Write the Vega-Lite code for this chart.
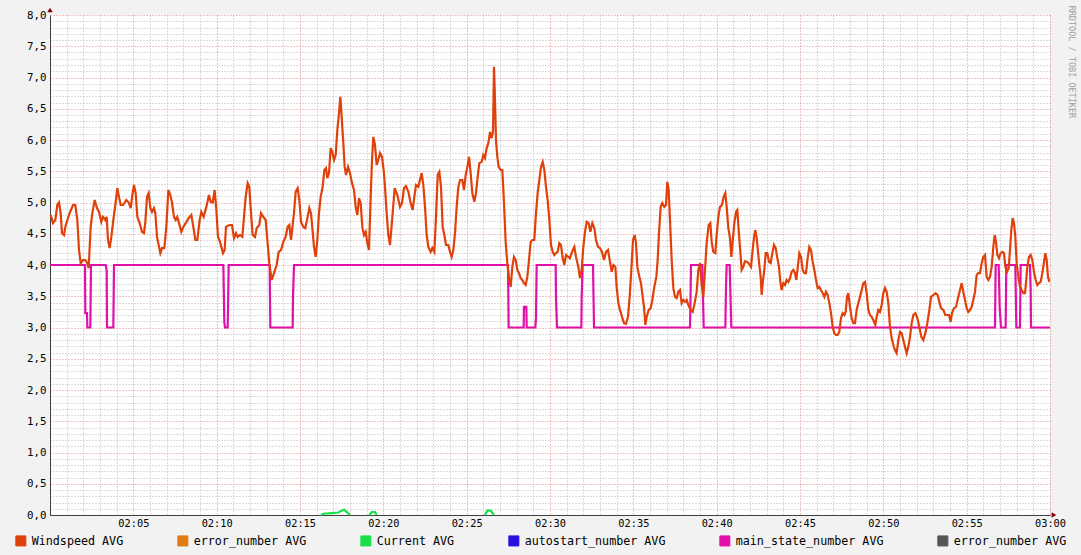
{
"$schema": "https://vega.github.io/schema/vega-lite/v6.json",
"width": 1000, "height": 500,
"autosize": {"type": "none"},
"padding": {"left": 50, "top": 15, "right": 31, "bottom": 40},
"background": "#f2f2f2",
"config": {"view": {"stroke": null, "fill": "#ffffff"}},
"title": {"text": "RRDTOOL / TOBI OETIKER", "orient": "right", "anchor": "start", "font": "DejaVu Sans Mono", "fontSize": 8.5, "fontWeight": "normal", "color": "#a0a0a0", "offset": 0, "dx": -2},
"datasets": {
"ws": [
{"s":"Windspeed AVG","t":0.04,"v":4.8},{"s":"Windspeed AVG","t":0.18,"v":4.67},{"s":"Windspeed AVG","t":0.32,"v":4.72},{"s":"Windspeed AVG","t":0.44,"v":4.96},{"s":"Windspeed AVG","t":0.54,"v":5.0},{"s":"Windspeed AVG","t":0.64,"v":4.83},{"s":"Windspeed AVG","t":0.72,"v":4.51},{"s":"Windspeed AVG","t":0.84,"v":4.48},{"s":"Windspeed AVG","t":0.92,"v":4.61},{"s":"Windspeed AVG","t":1.04,"v":4.72},{"s":"Windspeed AVG","t":1.18,"v":4.83},{"s":"Windspeed AVG","t":1.38,"v":4.96},{"s":"Windspeed AVG","t":1.52,"v":4.96},{"s":"Windspeed AVG","t":1.64,"v":4.72},{"s":"Windspeed AVG","t":1.74,"v":4.24},{"s":"Windspeed AVG","t":1.84,"v":4.03},{"s":"Windspeed AVG","t":1.98,"v":4.08},{"s":"Windspeed AVG","t":2.12,"v":4.08},{"s":"Windspeed AVG","t":2.24,"v":4.03},{"s":"Windspeed AVG","t":2.32,"v":3.95},{"s":"Windspeed AVG","t":2.44,"v":4.61},{"s":"Windspeed AVG","t":2.54,"v":4.83},{"s":"Windspeed AVG","t":2.68,"v":5.04},{"s":"Windspeed AVG","t":2.82,"v":4.91},{"s":"Windspeed AVG","t":2.94,"v":4.85},{"s":"Windspeed AVG","t":3.08,"v":4.69},{"s":"Windspeed AVG","t":3.18,"v":4.77},{"s":"Windspeed AVG","t":3.32,"v":4.72},{"s":"Windspeed AVG","t":3.4,"v":4.77},{"s":"Windspeed AVG","t":3.48,"v":4.4},{"s":"Windspeed AVG","t":3.58,"v":4.27},{"s":"Windspeed AVG","t":3.68,"v":4.45},{"s":"Windspeed AVG","t":3.8,"v":4.72},{"s":"Windspeed AVG","t":3.92,"v":4.96},{"s":"Windspeed AVG","t":4.04,"v":5.23},{"s":"Windspeed AVG","t":4.14,"v":5.09},{"s":"Windspeed AVG","t":4.24,"v":4.96},{"s":"Windspeed AVG","t":4.38,"v":4.96},{"s":"Windspeed AVG","t":4.58,"v":5.04},{"s":"Windspeed AVG","t":4.72,"v":5.0},{"s":"Windspeed AVG","t":4.84,"v":4.91},{"s":"Windspeed AVG","t":4.94,"v":5.12},{"s":"Windspeed AVG","t":5.04,"v":5.28},{"s":"Windspeed AVG","t":5.14,"v":5.15},{"s":"Windspeed AVG","t":5.24,"v":4.77},{"s":"Windspeed AVG","t":5.38,"v":4.67},{"s":"Windspeed AVG","t":5.52,"v":4.53},{"s":"Windspeed AVG","t":5.64,"v":4.51},{"s":"Windspeed AVG","t":5.72,"v":4.69},{"s":"Windspeed AVG","t":5.82,"v":5.09},{"s":"Windspeed AVG","t":5.92,"v":5.15},{"s":"Windspeed AVG","t":6.02,"v":4.91},{"s":"Windspeed AVG","t":6.12,"v":4.85},{"s":"Windspeed AVG","t":6.24,"v":4.91},{"s":"Windspeed AVG","t":6.32,"v":4.83},{"s":"Windspeed AVG","t":6.42,"v":4.45},{"s":"Windspeed AVG","t":6.52,"v":4.32},{"s":"Windspeed AVG","t":6.62,"v":4.19},{"s":"Windspeed AVG","t":6.72,"v":4.27},{"s":"Windspeed AVG","t":6.86,"v":4.27},{"s":"Windspeed AVG","t":6.98,"v":4.61},{"s":"Windspeed AVG","t":7.1,"v":5.2},{"s":"Windspeed AVG","t":7.22,"v":5.12},{"s":"Windspeed AVG","t":7.32,"v":5.0},{"s":"Windspeed AVG","t":7.44,"v":4.77},{"s":"Windspeed AVG","t":7.54,"v":4.72},{"s":"Windspeed AVG","t":7.64,"v":4.77},{"s":"Windspeed AVG","t":7.74,"v":4.67},{"s":"Windspeed AVG","t":7.88,"v":4.53},{"s":"Windspeed AVG","t":8.0,"v":4.61},{"s":"Windspeed AVG","t":8.14,"v":4.67},{"s":"Windspeed AVG","t":8.32,"v":4.75},{"s":"Windspeed AVG","t":8.48,"v":4.8},{"s":"Windspeed AVG","t":8.6,"v":4.61},{"s":"Windspeed AVG","t":8.72,"v":4.4},{"s":"Windspeed AVG","t":8.84,"v":4.4},{"s":"Windspeed AVG","t":8.98,"v":4.72},{"s":"Windspeed AVG","t":9.08,"v":4.85},{"s":"Windspeed AVG","t":9.22,"v":4.77},{"s":"Windspeed AVG","t":9.38,"v":4.93},{"s":"Windspeed AVG","t":9.54,"v":5.12},{"s":"Windspeed AVG","t":9.64,"v":5.01},{"s":"Windspeed AVG","t":9.76,"v":5.0},{"s":"Windspeed AVG","t":9.88,"v":5.2},{"s":"Windspeed AVG","t":9.98,"v":4.88},{"s":"Windspeed AVG","t":10.08,"v":4.45},{"s":"Windspeed AVG","t":10.2,"v":4.37},{"s":"Windspeed AVG","t":10.38,"v":4.19},{"s":"Windspeed AVG","t":10.48,"v":4.24},{"s":"Windspeed AVG","t":10.56,"v":4.61},{"s":"Windspeed AVG","t":10.76,"v":4.64},{"s":"Windspeed AVG","t":10.92,"v":4.64},{"s":"Windspeed AVG","t":11.04,"v":4.43},{"s":"Windspeed AVG","t":11.16,"v":4.51},{"s":"Windspeed AVG","t":11.26,"v":4.45},{"s":"Windspeed AVG","t":11.4,"v":4.48},{"s":"Windspeed AVG","t":11.54,"v":4.45},{"s":"Windspeed AVG","t":11.64,"v":4.77},{"s":"Windspeed AVG","t":11.74,"v":5.09},{"s":"Windspeed AVG","t":11.86,"v":5.31},{"s":"Windspeed AVG","t":11.96,"v":5.25},{"s":"Windspeed AVG","t":12.06,"v":4.83},{"s":"Windspeed AVG","t":12.16,"v":4.48},{"s":"Windspeed AVG","t":12.3,"v":4.45},{"s":"Windspeed AVG","t":12.4,"v":4.59},{"s":"Windspeed AVG","t":12.56,"v":4.64},{"s":"Windspeed AVG","t":12.66,"v":4.83},{"s":"Windspeed AVG","t":12.8,"v":4.77},{"s":"Windspeed AVG","t":12.94,"v":4.72},{"s":"Windspeed AVG","t":13.04,"v":4.4},{"s":"Windspeed AVG","t":13.16,"v":4.03},{"s":"Windspeed AVG","t":13.3,"v":3.76},{"s":"Windspeed AVG","t":13.44,"v":3.87},{"s":"Windspeed AVG","t":13.6,"v":4.0},{"s":"Windspeed AVG","t":13.72,"v":4.21},{"s":"Windspeed AVG","t":13.86,"v":4.24},{"s":"Windspeed AVG","t":14.0,"v":4.37},{"s":"Windspeed AVG","t":14.14,"v":4.45},{"s":"Windspeed AVG","t":14.26,"v":4.61},{"s":"Windspeed AVG","t":14.36,"v":4.64},{"s":"Windspeed AVG","t":14.46,"v":4.4},{"s":"Windspeed AVG","t":14.54,"v":4.59},{"s":"Windspeed AVG","t":14.64,"v":4.83},{"s":"Windspeed AVG","t":14.74,"v":5.17},{"s":"Windspeed AVG","t":14.86,"v":5.23},{"s":"Windspeed AVG","t":14.96,"v":5.04},{"s":"Windspeed AVG","t":15.06,"v":4.69},{"s":"Windspeed AVG","t":15.2,"v":4.61},{"s":"Windspeed AVG","t":15.32,"v":4.59},{"s":"Windspeed AVG","t":15.44,"v":4.75},{"s":"Windspeed AVG","t":15.56,"v":4.91},{"s":"Windspeed AVG","t":15.66,"v":4.83},{"s":"Windspeed AVG","t":15.74,"v":4.59},{"s":"Windspeed AVG","t":15.84,"v":4.29},{"s":"Windspeed AVG","t":15.94,"v":4.13},{"s":"Windspeed AVG","t":16.04,"v":4.4},{"s":"Windspeed AVG","t":16.14,"v":4.83},{"s":"Windspeed AVG","t":16.24,"v":5.09},{"s":"Windspeed AVG","t":16.36,"v":5.25},{"s":"Windspeed AVG","t":16.46,"v":5.52},{"s":"Windspeed AVG","t":16.56,"v":5.55},{"s":"Windspeed AVG","t":16.64,"v":5.39},{"s":"Windspeed AVG","t":16.74,"v":5.47},{"s":"Windspeed AVG","t":16.84,"v":5.87},{"s":"Windspeed AVG","t":16.94,"v":5.81},{"s":"Windspeed AVG","t":17.04,"v":5.68},{"s":"Windspeed AVG","t":17.14,"v":5.76},{"s":"Windspeed AVG","t":17.24,"v":6.16},{"s":"Windspeed AVG","t":17.34,"v":6.43},{"s":"Windspeed AVG","t":17.42,"v":6.69},{"s":"Windspeed AVG","t":17.5,"v":6.37},{"s":"Windspeed AVG","t":17.6,"v":5.95},{"s":"Windspeed AVG","t":17.68,"v":5.57},{"s":"Windspeed AVG","t":17.76,"v":5.44},{"s":"Windspeed AVG","t":17.88,"v":5.57},{"s":"Windspeed AVG","t":18.0,"v":5.47},{"s":"Windspeed AVG","t":18.12,"v":5.31},{"s":"Windspeed AVG","t":18.24,"v":5.2},{"s":"Windspeed AVG","t":18.34,"v":4.93},{"s":"Windspeed AVG","t":18.44,"v":4.8},{"s":"Windspeed AVG","t":18.54,"v":5.07},{"s":"Windspeed AVG","t":18.64,"v":4.99},{"s":"Windspeed AVG","t":18.74,"v":4.61},{"s":"Windspeed AVG","t":18.84,"v":4.48},{"s":"Windspeed AVG","t":18.94,"v":4.53},{"s":"Windspeed AVG","t":19.04,"v":4.35},{"s":"Windspeed AVG","t":19.14,"v":4.24},{"s":"Windspeed AVG","t":19.24,"v":5.09},{"s":"Windspeed AVG","t":19.32,"v":5.68},{"s":"Windspeed AVG","t":19.4,"v":6.05},{"s":"Windspeed AVG","t":19.5,"v":5.92},{"s":"Windspeed AVG","t":19.6,"v":5.6},{"s":"Windspeed AVG","t":19.7,"v":5.68},{"s":"Windspeed AVG","t":19.8,"v":5.79},{"s":"Windspeed AVG","t":19.92,"v":5.73},{"s":"Windspeed AVG","t":20.02,"v":5.52},{"s":"Windspeed AVG","t":20.1,"v":5.25},{"s":"Windspeed AVG","t":20.2,"v":4.83},{"s":"Windspeed AVG","t":20.3,"v":4.48},{"s":"Windspeed AVG","t":20.4,"v":4.32},{"s":"Windspeed AVG","t":20.56,"v":4.83},{"s":"Windspeed AVG","t":20.68,"v":5.23},{"s":"Windspeed AVG","t":20.84,"v":5.12},{"s":"Windspeed AVG","t":21.0,"v":4.93},{"s":"Windspeed AVG","t":21.12,"v":4.99},{"s":"Windspeed AVG","t":21.24,"v":5.23},{"s":"Windspeed AVG","t":21.36,"v":5.26},{"s":"Windspeed AVG","t":21.5,"v":5.17},{"s":"Windspeed AVG","t":21.64,"v":4.99},{"s":"Windspeed AVG","t":21.76,"v":4.88},{"s":"Windspeed AVG","t":21.86,"v":5.09},{"s":"Windspeed AVG","t":21.96,"v":5.28},{"s":"Windspeed AVG","t":22.1,"v":5.25},{"s":"Windspeed AVG","t":22.2,"v":5.36},{"s":"Windspeed AVG","t":22.3,"v":5.47},{"s":"Windspeed AVG","t":22.4,"v":5.28},{"s":"Windspeed AVG","t":22.5,"v":4.93},{"s":"Windspeed AVG","t":22.6,"v":4.48},{"s":"Windspeed AVG","t":22.7,"v":4.29},{"s":"Windspeed AVG","t":22.84,"v":4.21},{"s":"Windspeed AVG","t":22.94,"v":4.27},{"s":"Windspeed AVG","t":23.06,"v":4.21},{"s":"Windspeed AVG","t":23.16,"v":4.77},{"s":"Windspeed AVG","t":23.26,"v":5.44},{"s":"Windspeed AVG","t":23.36,"v":5.49},{"s":"Windspeed AVG","t":23.46,"v":5.25},{"s":"Windspeed AVG","t":23.56,"v":4.61},{"s":"Windspeed AVG","t":23.66,"v":4.48},{"s":"Windspeed AVG","t":23.76,"v":4.32},{"s":"Windspeed AVG","t":23.9,"v":4.32},{"s":"Windspeed AVG","t":24.0,"v":4.21},{"s":"Windspeed AVG","t":24.1,"v":4.13},{"s":"Windspeed AVG","t":24.2,"v":4.24},{"s":"Windspeed AVG","t":24.3,"v":4.51},{"s":"Windspeed AVG","t":24.4,"v":4.93},{"s":"Windspeed AVG","t":24.5,"v":5.25},{"s":"Windspeed AVG","t":24.6,"v":5.36},{"s":"Windspeed AVG","t":24.74,"v":5.36},{"s":"Windspeed AVG","t":24.84,"v":5.2},{"s":"Windspeed AVG","t":24.94,"v":5.44},{"s":"Windspeed AVG","t":25.04,"v":5.57},{"s":"Windspeed AVG","t":25.14,"v":5.73},{"s":"Windspeed AVG","t":25.24,"v":5.47},{"s":"Windspeed AVG","t":25.34,"v":5.15},{"s":"Windspeed AVG","t":25.46,"v":5.01},{"s":"Windspeed AVG","t":25.56,"v":5.15},{"s":"Windspeed AVG","t":25.66,"v":5.41},{"s":"Windspeed AVG","t":25.76,"v":5.63},{"s":"Windspeed AVG","t":25.9,"v":5.65},{"s":"Windspeed AVG","t":26.0,"v":5.76},{"s":"Windspeed AVG","t":26.1,"v":5.71},{"s":"Windspeed AVG","t":26.2,"v":5.87},{"s":"Windspeed AVG","t":26.3,"v":5.95},{"s":"Windspeed AVG","t":26.4,"v":6.13},{"s":"Windspeed AVG","t":26.5,"v":6.03},{"s":"Windspeed AVG","t":26.58,"v":6.13},{"s":"Windspeed AVG","t":26.64,"v":7.17},{"s":"Windspeed AVG","t":26.7,"v":6.64},{"s":"Windspeed AVG","t":26.76,"v":6.0},{"s":"Windspeed AVG","t":26.84,"v":5.73},{"s":"Windspeed AVG","t":26.92,"v":5.57},{"s":"Windspeed AVG","t":27.04,"v":5.52},{"s":"Windspeed AVG","t":27.14,"v":5.52},{"s":"Windspeed AVG","t":27.24,"v":4.99},{"s":"Windspeed AVG","t":27.34,"v":4.37},{"s":"Windspeed AVG","t":27.44,"v":4.03},{"s":"Windspeed AVG","t":27.54,"v":3.79},{"s":"Windspeed AVG","t":27.64,"v":3.65},{"s":"Windspeed AVG","t":27.74,"v":3.97},{"s":"Windspeed AVG","t":27.84,"v":4.13},{"s":"Windspeed AVG","t":27.94,"v":4.08},{"s":"Windspeed AVG","t":28.04,"v":3.92},{"s":"Windspeed AVG","t":28.14,"v":3.87},{"s":"Windspeed AVG","t":28.24,"v":3.79},{"s":"Windspeed AVG","t":28.34,"v":3.76},{"s":"Windspeed AVG","t":28.44,"v":3.71},{"s":"Windspeed AVG","t":28.54,"v":3.68},{"s":"Windspeed AVG","t":28.64,"v":3.81},{"s":"Windspeed AVG","t":28.74,"v":4.08},{"s":"Windspeed AVG","t":28.84,"v":4.37},{"s":"Windspeed AVG","t":28.94,"v":4.4},{"s":"Windspeed AVG","t":29.06,"v":4.4},{"s":"Windspeed AVG","t":29.16,"v":4.83},{"s":"Windspeed AVG","t":29.26,"v":5.15},{"s":"Windspeed AVG","t":29.36,"v":5.36},{"s":"Windspeed AVG","t":29.46,"v":5.57},{"s":"Windspeed AVG","t":29.56,"v":5.65},{"s":"Windspeed AVG","t":29.66,"v":5.52},{"s":"Windspeed AVG","t":29.76,"v":5.25},{"s":"Windspeed AVG","t":29.86,"v":5.04},{"s":"Windspeed AVG","t":29.96,"v":4.72},{"s":"Windspeed AVG","t":30.06,"v":4.32},{"s":"Windspeed AVG","t":30.16,"v":4.21},{"s":"Windspeed AVG","t":30.26,"v":4.16},{"s":"Windspeed AVG","t":30.36,"v":4.19},{"s":"Windspeed AVG","t":30.46,"v":4.21},{"s":"Windspeed AVG","t":30.56,"v":4.35},{"s":"Windspeed AVG","t":30.66,"v":4.32},{"s":"Windspeed AVG","t":30.76,"v":4.11},{"s":"Windspeed AVG","t":30.86,"v":4.0},{"s":"Windspeed AVG","t":30.96,"v":4.16},{"s":"Windspeed AVG","t":31.1,"v":4.13},{"s":"Windspeed AVG","t":31.2,"v":4.11},{"s":"Windspeed AVG","t":31.32,"v":4.21},{"s":"Windspeed AVG","t":31.46,"v":4.29},{"s":"Windspeed AVG","t":31.56,"v":4.13},{"s":"Windspeed AVG","t":31.7,"v":3.97},{"s":"Windspeed AVG","t":31.8,"v":3.79},{"s":"Windspeed AVG","t":31.9,"v":3.92},{"s":"Windspeed AVG","t":32.0,"v":4.29},{"s":"Windspeed AVG","t":32.1,"v":4.53},{"s":"Windspeed AVG","t":32.2,"v":4.69},{"s":"Windspeed AVG","t":32.32,"v":4.67},{"s":"Windspeed AVG","t":32.42,"v":4.53},{"s":"Windspeed AVG","t":32.54,"v":4.67},{"s":"Windspeed AVG","t":32.66,"v":4.59},{"s":"Windspeed AVG","t":32.76,"v":4.4},{"s":"Windspeed AVG","t":32.88,"v":4.29},{"s":"Windspeed AVG","t":33.0,"v":4.27},{"s":"Windspeed AVG","t":33.12,"v":4.21},{"s":"Windspeed AVG","t":33.24,"v":4.08},{"s":"Windspeed AVG","t":33.36,"v":4.21},{"s":"Windspeed AVG","t":33.48,"v":4.24},{"s":"Windspeed AVG","t":33.6,"v":4.05},{"s":"Windspeed AVG","t":33.7,"v":3.89},{"s":"Windspeed AVG","t":33.8,"v":4.0},{"s":"Windspeed AVG","t":33.92,"v":3.97},{"s":"Windspeed AVG","t":34.0,"v":3.65},{"s":"Windspeed AVG","t":34.1,"v":3.39},{"s":"Windspeed AVG","t":34.2,"v":3.28},{"s":"Windspeed AVG","t":34.32,"v":3.17},{"s":"Windspeed AVG","t":34.44,"v":3.07},{"s":"Windspeed AVG","t":34.56,"v":3.06},{"s":"Windspeed AVG","t":34.68,"v":3.17},{"s":"Windspeed AVG","t":34.78,"v":3.49},{"s":"Windspeed AVG","t":34.88,"v":3.92},{"s":"Windspeed AVG","t":34.98,"v":4.4},{"s":"Windspeed AVG","t":35.08,"v":4.48},{"s":"Windspeed AVG","t":35.16,"v":4.35},{"s":"Windspeed AVG","t":35.24,"v":3.97},{"s":"Windspeed AVG","t":35.36,"v":3.81},{"s":"Windspeed AVG","t":35.46,"v":3.71},{"s":"Windspeed AVG","t":35.56,"v":3.49},{"s":"Windspeed AVG","t":35.64,"v":3.33},{"s":"Windspeed AVG","t":35.72,"v":3.04},{"s":"Windspeed AVG","t":35.8,"v":3.17},{"s":"Windspeed AVG","t":35.92,"v":3.28},{"s":"Windspeed AVG","t":36.04,"v":3.31},{"s":"Windspeed AVG","t":36.14,"v":3.44},{"s":"Windspeed AVG","t":36.26,"v":3.65},{"s":"Windspeed AVG","t":36.38,"v":3.81},{"s":"Windspeed AVG","t":36.46,"v":4.08},{"s":"Windspeed AVG","t":36.54,"v":4.51},{"s":"Windspeed AVG","t":36.64,"v":4.93},{"s":"Windspeed AVG","t":36.74,"v":4.99},{"s":"Windspeed AVG","t":36.86,"v":4.93},{"s":"Windspeed AVG","t":36.96,"v":4.96},{"s":"Windspeed AVG","t":37.04,"v":5.33},{"s":"Windspeed AVG","t":37.12,"v":5.2},{"s":"Windspeed AVG","t":37.2,"v":4.72},{"s":"Windspeed AVG","t":37.3,"v":4.08},{"s":"Windspeed AVG","t":37.4,"v":3.63},{"s":"Windspeed AVG","t":37.5,"v":3.49},{"s":"Windspeed AVG","t":37.6,"v":3.47},{"s":"Windspeed AVG","t":37.7,"v":3.57},{"s":"Windspeed AVG","t":37.8,"v":3.6},{"s":"Windspeed AVG","t":37.9,"v":3.39},{"s":"Windspeed AVG","t":38.0,"v":3.44},{"s":"Windspeed AVG","t":38.12,"v":3.41},{"s":"Windspeed AVG","t":38.2,"v":3.44},{"s":"Windspeed AVG","t":38.3,"v":3.36},{"s":"Windspeed AVG","t":38.44,"v":3.28},{"s":"Windspeed AVG","t":38.56,"v":3.25},{"s":"Windspeed AVG","t":38.68,"v":3.39},{"s":"Windspeed AVG","t":38.8,"v":3.57},{"s":"Windspeed AVG","t":38.9,"v":3.92},{"s":"Windspeed AVG","t":39.0,"v":4.03},{"s":"Windspeed AVG","t":39.1,"v":3.68},{"s":"Windspeed AVG","t":39.2,"v":3.49},{"s":"Windspeed AVG","t":39.3,"v":3.92},{"s":"Windspeed AVG","t":39.4,"v":4.35},{"s":"Windspeed AVG","t":39.52,"v":4.64},{"s":"Windspeed AVG","t":39.62,"v":4.67},{"s":"Windspeed AVG","t":39.7,"v":4.37},{"s":"Windspeed AVG","t":39.8,"v":4.21},{"s":"Windspeed AVG","t":39.92,"v":4.19},{"s":"Windspeed AVG","t":40.0,"v":4.48},{"s":"Windspeed AVG","t":40.1,"v":4.77},{"s":"Windspeed AVG","t":40.2,"v":4.93},{"s":"Windspeed AVG","t":40.32,"v":4.96},{"s":"Windspeed AVG","t":40.42,"v":5.09},{"s":"Windspeed AVG","t":40.52,"v":5.15},{"s":"Windspeed AVG","t":40.6,"v":4.93},{"s":"Windspeed AVG","t":40.7,"v":4.59},{"s":"Windspeed AVG","t":40.8,"v":4.43},{"s":"Windspeed AVG","t":40.88,"v":4.13},{"s":"Windspeed AVG","t":40.96,"v":4.37},{"s":"Windspeed AVG","t":41.06,"v":4.67},{"s":"Windspeed AVG","t":41.16,"v":4.85},{"s":"Windspeed AVG","t":41.24,"v":4.88},{"s":"Windspeed AVG","t":41.32,"v":4.56},{"s":"Windspeed AVG","t":41.4,"v":4.28},{"s":"Windspeed AVG","t":41.5,"v":3.92},{"s":"Windspeed AVG","t":41.6,"v":3.97},{"s":"Windspeed AVG","t":41.7,"v":4.06},{"s":"Windspeed AVG","t":41.84,"v":4.05},{"s":"Windspeed AVG","t":41.96,"v":4.01},{"s":"Windspeed AVG","t":42.06,"v":3.97},{"s":"Windspeed AVG","t":42.16,"v":4.24},{"s":"Windspeed AVG","t":42.24,"v":4.45},{"s":"Windspeed AVG","t":42.32,"v":4.56},{"s":"Windspeed AVG","t":42.4,"v":4.43},{"s":"Windspeed AVG","t":42.48,"v":4.21},{"s":"Windspeed AVG","t":42.56,"v":4.0},{"s":"Windspeed AVG","t":42.64,"v":3.81},{"s":"Windspeed AVG","t":42.7,"v":3.52},{"s":"Windspeed AVG","t":42.78,"v":3.76},{"s":"Windspeed AVG","t":42.86,"v":3.92},{"s":"Windspeed AVG","t":42.94,"v":4.19},{"s":"Windspeed AVG","t":43.04,"v":4.19},{"s":"Windspeed AVG","t":43.14,"v":4.05},{"s":"Windspeed AVG","t":43.24,"v":4.03},{"s":"Windspeed AVG","t":43.34,"v":4.19},{"s":"Windspeed AVG","t":43.44,"v":4.32},{"s":"Windspeed AVG","t":43.54,"v":4.27},{"s":"Windspeed AVG","t":43.64,"v":4.11},{"s":"Windspeed AVG","t":43.74,"v":3.97},{"s":"Windspeed AVG","t":43.82,"v":3.73},{"s":"Windspeed AVG","t":43.9,"v":3.6},{"s":"Windspeed AVG","t":44.0,"v":3.71},{"s":"Windspeed AVG","t":44.1,"v":3.68},{"s":"Windspeed AVG","t":44.2,"v":3.76},{"s":"Windspeed AVG","t":44.3,"v":3.73},{"s":"Windspeed AVG","t":44.4,"v":3.79},{"s":"Windspeed AVG","t":44.5,"v":3.89},{"s":"Windspeed AVG","t":44.6,"v":3.92},{"s":"Windspeed AVG","t":44.7,"v":3.87},{"s":"Windspeed AVG","t":44.78,"v":3.76},{"s":"Windspeed AVG","t":44.86,"v":3.95},{"s":"Windspeed AVG","t":44.96,"v":4.19},{"s":"Windspeed AVG","t":45.06,"v":4.13},{"s":"Windspeed AVG","t":45.16,"v":3.92},{"s":"Windspeed AVG","t":45.26,"v":3.87},{"s":"Windspeed AVG","t":45.36,"v":3.87},{"s":"Windspeed AVG","t":45.46,"v":4.11},{"s":"Windspeed AVG","t":45.56,"v":4.29},{"s":"Windspeed AVG","t":45.66,"v":4.24},{"s":"Windspeed AVG","t":45.76,"v":4.05},{"s":"Windspeed AVG","t":45.86,"v":3.92},{"s":"Windspeed AVG","t":45.96,"v":3.76},{"s":"Windspeed AVG","t":46.06,"v":3.63},{"s":"Windspeed AVG","t":46.16,"v":3.65},{"s":"Windspeed AVG","t":46.26,"v":3.6},{"s":"Windspeed AVG","t":46.36,"v":3.55},{"s":"Windspeed AVG","t":46.46,"v":3.49},{"s":"Windspeed AVG","t":46.56,"v":3.57},{"s":"Windspeed AVG","t":46.66,"v":3.52},{"s":"Windspeed AVG","t":46.76,"v":3.39},{"s":"Windspeed AVG","t":46.86,"v":3.23},{"s":"Windspeed AVG","t":46.96,"v":3.01},{"s":"Windspeed AVG","t":47.06,"v":2.91},{"s":"Windspeed AVG","t":47.16,"v":2.88},{"s":"Windspeed AVG","t":47.26,"v":2.88},{"s":"Windspeed AVG","t":47.36,"v":2.93},{"s":"Windspeed AVG","t":47.46,"v":3.15},{"s":"Windspeed AVG","t":47.56,"v":3.23},{"s":"Windspeed AVG","t":47.66,"v":3.2},{"s":"Windspeed AVG","t":47.74,"v":3.25},{"s":"Windspeed AVG","t":47.82,"v":3.49},{"s":"Windspeed AVG","t":47.9,"v":3.55},{"s":"Windspeed AVG","t":48.0,"v":3.33},{"s":"Windspeed AVG","t":48.1,"v":3.15},{"s":"Windspeed AVG","t":48.2,"v":3.07},{"s":"Windspeed AVG","t":48.3,"v":3.07},{"s":"Windspeed AVG","t":48.4,"v":3.28},{"s":"Windspeed AVG","t":48.5,"v":3.39},{"s":"Windspeed AVG","t":48.6,"v":3.49},{"s":"Windspeed AVG","t":48.7,"v":3.6},{"s":"Windspeed AVG","t":48.8,"v":3.71},{"s":"Windspeed AVG","t":48.9,"v":3.73},{"s":"Windspeed AVG","t":49.0,"v":3.55},{"s":"Windspeed AVG","t":49.1,"v":3.28},{"s":"Windspeed AVG","t":49.2,"v":3.2},{"s":"Windspeed AVG","t":49.3,"v":3.17},{"s":"Windspeed AVG","t":49.4,"v":3.12},{"s":"Windspeed AVG","t":49.52,"v":3.04},{"s":"Windspeed AVG","t":49.6,"v":3.17},{"s":"Windspeed AVG","t":49.7,"v":3.28},{"s":"Windspeed AVG","t":49.8,"v":3.25},{"s":"Windspeed AVG","t":49.9,"v":3.36},{"s":"Windspeed AVG","t":50.0,"v":3.55},{"s":"Windspeed AVG","t":50.1,"v":3.63},{"s":"Windspeed AVG","t":50.2,"v":3.57},{"s":"Windspeed AVG","t":50.3,"v":3.39},{"s":"Windspeed AVG","t":50.4,"v":3.01},{"s":"Windspeed AVG","t":50.5,"v":2.83},{"s":"Windspeed AVG","t":50.6,"v":2.72},{"s":"Windspeed AVG","t":50.7,"v":2.64},{"s":"Windspeed AVG","t":50.8,"v":2.59},{"s":"Windspeed AVG","t":50.9,"v":2.8},{"s":"Windspeed AVG","t":51.0,"v":2.93},{"s":"Windspeed AVG","t":51.1,"v":2.91},{"s":"Windspeed AVG","t":51.2,"v":2.8},{"s":"Windspeed AVG","t":51.3,"v":2.69},{"s":"Windspeed AVG","t":51.4,"v":2.59},{"s":"Windspeed AVG","t":51.5,"v":2.69},{"s":"Windspeed AVG","t":51.6,"v":2.85},{"s":"Windspeed AVG","t":51.7,"v":3.07},{"s":"Windspeed AVG","t":51.8,"v":3.2},{"s":"Windspeed AVG","t":51.92,"v":3.23},{"s":"Windspeed AVG","t":52.04,"v":3.15},{"s":"Windspeed AVG","t":52.16,"v":3.01},{"s":"Windspeed AVG","t":52.28,"v":2.85},{"s":"Windspeed AVG","t":52.4,"v":2.8},{"s":"Windspeed AVG","t":52.52,"v":2.91},{"s":"Windspeed AVG","t":52.64,"v":3.07},{"s":"Windspeed AVG","t":52.76,"v":3.28},{"s":"Windspeed AVG","t":52.86,"v":3.49},{"s":"Windspeed AVG","t":53.0,"v":3.52},{"s":"Windspeed AVG","t":53.14,"v":3.55},{"s":"Windspeed AVG","t":53.26,"v":3.52},{"s":"Windspeed AVG","t":53.36,"v":3.41},{"s":"Windspeed AVG","t":53.46,"v":3.31},{"s":"Windspeed AVG","t":53.6,"v":3.28},{"s":"Windspeed AVG","t":53.72,"v":3.2},{"s":"Windspeed AVG","t":53.84,"v":3.2},{"s":"Windspeed AVG","t":53.94,"v":3.2},{"s":"Windspeed AVG","t":54.04,"v":3.09},{"s":"Windspeed AVG","t":54.12,"v":3.23},{"s":"Windspeed AVG","t":54.24,"v":3.31},{"s":"Windspeed AVG","t":54.36,"v":3.33},{"s":"Windspeed AVG","t":54.48,"v":3.47},{"s":"Windspeed AVG","t":54.6,"v":3.6},{"s":"Windspeed AVG","t":54.7,"v":3.71},{"s":"Windspeed AVG","t":54.8,"v":3.57},{"s":"Windspeed AVG","t":54.9,"v":3.44},{"s":"Windspeed AVG","t":55.0,"v":3.31},{"s":"Windspeed AVG","t":55.1,"v":3.25},{"s":"Windspeed AVG","t":55.2,"v":3.28},{"s":"Windspeed AVG","t":55.3,"v":3.33},{"s":"Windspeed AVG","t":55.4,"v":3.44},{"s":"Windspeed AVG","t":55.5,"v":3.57},{"s":"Windspeed AVG","t":55.6,"v":3.84},{"s":"Windspeed AVG","t":55.7,"v":3.87},{"s":"Windspeed AVG","t":55.8,"v":3.87},{"s":"Windspeed AVG","t":55.9,"v":4.03},{"s":"Windspeed AVG","t":56.0,"v":4.13},{"s":"Windspeed AVG","t":56.1,"v":4.16},{"s":"Windspeed AVG","t":56.2,"v":3.81},{"s":"Windspeed AVG","t":56.3,"v":3.76},{"s":"Windspeed AVG","t":56.4,"v":3.81},{"s":"Windspeed AVG","t":56.5,"v":3.97},{"s":"Windspeed AVG","t":56.6,"v":4.29},{"s":"Windspeed AVG","t":56.68,"v":4.48},{"s":"Windspeed AVG","t":56.76,"v":4.37},{"s":"Windspeed AVG","t":56.84,"v":4.16},{"s":"Windspeed AVG","t":56.94,"v":4.11},{"s":"Windspeed AVG","t":57.04,"v":4.19},{"s":"Windspeed AVG","t":57.14,"v":4.21},{"s":"Windspeed AVG","t":57.24,"v":4.19},{"s":"Windspeed AVG","t":57.32,"v":3.97},{"s":"Windspeed AVG","t":57.42,"v":3.89},{"s":"Windspeed AVG","t":57.52,"v":3.95},{"s":"Windspeed AVG","t":57.6,"v":4.24},{"s":"Windspeed AVG","t":57.68,"v":4.56},{"s":"Windspeed AVG","t":57.76,"v":4.75},{"s":"Windspeed AVG","t":57.84,"v":4.67},{"s":"Windspeed AVG","t":57.92,"v":4.45},{"s":"Windspeed AVG","t":58.0,"v":4.03},{"s":"Windspeed AVG","t":58.1,"v":3.81},{"s":"Windspeed AVG","t":58.2,"v":3.65},{"s":"Windspeed AVG","t":58.3,"v":3.6},{"s":"Windspeed AVG","t":58.4,"v":3.55},{"s":"Windspeed AVG","t":58.5,"v":3.55},{"s":"Windspeed AVG","t":58.56,"v":3.71},{"s":"Windspeed AVG","t":58.64,"v":3.97},{"s":"Windspeed AVG","t":58.74,"v":4.13},{"s":"Windspeed AVG","t":58.84,"v":4.16},{"s":"Windspeed AVG","t":58.94,"v":4.08},{"s":"Windspeed AVG","t":59.04,"v":3.89},{"s":"Windspeed AVG","t":59.14,"v":3.76},{"s":"Windspeed AVG","t":59.24,"v":3.68},{"s":"Windspeed AVG","t":59.34,"v":3.71},{"s":"Windspeed AVG","t":59.44,"v":3.73},{"s":"Windspeed AVG","t":59.54,"v":3.87},{"s":"Windspeed AVG","t":59.64,"v":4.05},{"s":"Windspeed AVG","t":59.72,"v":4.19},{"s":"Windspeed AVG","t":59.8,"v":4.08},{"s":"Windspeed AVG","t":59.88,"v":3.81},{"s":"Windspeed AVG","t":59.96,"v":3.73}
],
"ms": [
{"s":"main_state_number AVG","t":0,"v":4},{"s":"main_state_number AVG","t":2.1,"v":4},{"s":"main_state_number AVG","t":2.12,"v":3.23},{"s":"main_state_number AVG","t":2.22,"v":3.23},{"s":"main_state_number AVG","t":2.24,"v":3},{"s":"main_state_number AVG","t":2.42,"v":3},{"s":"main_state_number AVG","t":2.46,"v":4},
{"s":"main_state_number AVG","t":3.34,"v":4},{"s":"main_state_number AVG","t":3.4,"v":3.92},{"s":"main_state_number AVG","t":3.42,"v":3},{"s":"main_state_number AVG","t":3.8,"v":3},{"s":"main_state_number AVG","t":3.84,"v":4},
{"s":"main_state_number AVG","t":10.4,"v":4},{"s":"main_state_number AVG","t":10.46,"v":3.09},{"s":"main_state_number AVG","t":10.5,"v":3},{"s":"main_state_number AVG","t":10.66,"v":3},{"s":"main_state_number AVG","t":10.68,"v":3.28},{"s":"main_state_number AVG","t":10.72,"v":4},
{"s":"main_state_number AVG","t":13.18,"v":4},{"s":"main_state_number AVG","t":13.22,"v":3},{"s":"main_state_number AVG","t":14.56,"v":3},{"s":"main_state_number AVG","t":14.58,"v":3.49},{"s":"main_state_number AVG","t":14.64,"v":4},
{"s":"main_state_number AVG","t":27.48,"v":4},{"s":"main_state_number AVG","t":27.52,"v":3},{"s":"main_state_number AVG","t":28.42,"v":3},{"s":"main_state_number AVG","t":28.44,"v":3.33},{"s":"main_state_number AVG","t":28.58,"v":3.33},{"s":"main_state_number AVG","t":28.6,"v":3},{"s":"main_state_number AVG","t":29.12,"v":3},{"s":"main_state_number AVG","t":29.16,"v":3.15},{"s":"main_state_number AVG","t":29.2,"v":4},{"s":"main_state_number AVG","t":30.34,"v":4},{"s":"main_state_number AVG","t":30.36,"v":3.47},{"s":"main_state_number AVG","t":30.42,"v":3},
{"s":"main_state_number AVG","t":31.88,"v":3},{"s":"main_state_number AVG","t":31.9,"v":3.49},{"s":"main_state_number AVG","t":31.96,"v":4},{"s":"main_state_number AVG","t":32.58,"v":4},{"s":"main_state_number AVG","t":32.64,"v":3},
{"s":"main_state_number AVG","t":38.4,"v":3},{"s":"main_state_number AVG","t":38.42,"v":3.28},{"s":"main_state_number AVG","t":38.46,"v":4},{"s":"main_state_number AVG","t":39.14,"v":4},{"s":"main_state_number AVG","t":39.18,"v":3.49},{"s":"main_state_number AVG","t":39.22,"v":3},
{"s":"main_state_number AVG","t":40.52,"v":3},{"s":"main_state_number AVG","t":40.56,"v":3.65},{"s":"main_state_number AVG","t":40.6,"v":4},{"s":"main_state_number AVG","t":40.78,"v":4},{"s":"main_state_number AVG","t":40.82,"v":3.6},{"s":"main_state_number AVG","t":40.88,"v":3},
{"s":"main_state_number AVG","t":56.7,"v":3},{"s":"main_state_number AVG","t":56.74,"v":4},{"s":"main_state_number AVG","t":56.92,"v":4},{"s":"main_state_number AVG","t":56.98,"v":3.33},{"s":"main_state_number AVG","t":57.06,"v":3},{"s":"main_state_number AVG","t":57.34,"v":3},{"s":"main_state_number AVG","t":57.38,"v":4},{"s":"main_state_number AVG","t":57.92,"v":4},{"s":"main_state_number AVG","t":57.98,"v":3},{"s":"main_state_number AVG","t":58.2,"v":3},{"s":"main_state_number AVG","t":58.24,"v":4},{"s":"main_state_number AVG","t":58.8,"v":4},{"s":"main_state_number AVG","t":58.84,"v":3.6},{"s":"main_state_number AVG","t":58.86,"v":3},{"s":"main_state_number AVG","t":60,"v":3}
],
"cur": [
{"s":"Current AVG","seg":1,"t":16.26,"v":0},{"s":"Current AVG","seg":1,"t":16.4,"v":0.02},{"s":"Current AVG","seg":1,"t":16.9,"v":0.03},{"s":"Current AVG","seg":1,"t":17.3,"v":0.04},{"s":"Current AVG","seg":1,"t":17.5,"v":0.07},{"s":"Current AVG","seg":1,"t":17.64,"v":0.085},{"s":"Current AVG","seg":1,"t":17.8,"v":0.05},{"s":"Current AVG","seg":1,"t":18.0,"v":0},
{"s":"Current AVG","seg":2,"t":19.16,"v":0},{"s":"Current AVG","seg":2,"t":19.3,"v":0.045},{"s":"Current AVG","seg":2,"t":19.5,"v":0.045},{"s":"Current AVG","seg":2,"t":19.6,"v":0},
{"s":"Current AVG","seg":3,"t":26.1,"v":0},{"s":"Current AVG","seg":3,"t":26.24,"v":0.07},{"s":"Current AVG","seg":3,"t":26.44,"v":0.07},{"s":"Current AVG","seg":3,"t":26.64,"v":0}
],
"arrowUp": [{"t":0,"v":8.08}],
"arrowRight": [{"t":60.24,"v":0}]
},
"encoding": {
"x": {"field": "t", "type": "quantitative",
 "scale": {"domain": [0, 60], "nice": false, "zero": false},
 "axis": {"title": null, "values": [0,1,2,3,4,5,6,7,8,9,10,11,12,13,14,15,16,17,18,19,20,21,22,23,24,25,26,27,28,29,30,31,32,33,34,35,36,37,38,39,40,41,42,43,44,45,46,47,48,49,50,51,52,53,54,55,56,57,58,59,60],
  "grid": true, "gridDash": [1, 2], "gridWidth": 1,
  "gridColor": {"condition": {"test": "datum.value % 5 == 0", "value": "#e08888"}, "value": "#b8b8b8"},
  "ticks": false, "domainColor": "#404040", "domainWidth": 1,
  "labelExpr": "datum.value % 5 == 0 && datum.value > 0 ? (datum.value == 60 ? '03:00' : '02:' + (datum.value < 10 ? '0' : '') + datum.value) : ''",
  "labelFont": "DejaVu Sans Mono", "labelFontSize": 10.3, "labelColor": "#000000", "labelPadding": 3,
  "labelFlush": false, "labelOverlap": false, "labelBound": false}},
"y": {"field": "v", "type": "quantitative",
 "scale": {"domain": [0, 8], "nice": false, "zero": true},
 "axis": {"title": null, "values": [0,0.1,0.2,0.3,0.4,0.5,0.6,0.7,0.8,0.9,1,1.1,1.2,1.3,1.4,1.5,1.6,1.7,1.8,1.9,2,2.1,2.2,2.3,2.4,2.5,2.6,2.7,2.8,2.9,3,3.1,3.2,3.3,3.4,3.5,3.6,3.7,3.8,3.9,4,4.1,4.2,4.3,4.4,4.5,4.6,4.7,4.8,4.9,5,5.1,5.2,5.3,5.4,5.5,5.6,5.7,5.8,5.9,6,6.1,6.2,6.3,6.4,6.5,6.6,6.7,6.8,6.9,7,7.1,7.2,7.3,7.4,7.5,7.6,7.7,7.8,7.9,8],
  "grid": true, "gridDash": [1, 2], "gridWidth": 1,
  "gridColor": {"condition": {"test": "abs(datum.value*2 - round(datum.value*2)) < 0.001", "value": "#e08888"}, "value": "#b8b8b8"},
  "ticks": false, "domainColor": "#404040", "domainWidth": 1,
  "labelExpr": "abs(datum.value*2 - round(datum.value*2)) < 0.001 ? replace(format(datum.value, '.1f'), '.', ',') : ''",
  "labelFont": "DejaVu Sans Mono", "labelFontSize": 10.8, "labelColor": "#000000", "labelPadding": 4,
  "labelOverlap": false, "labelBound": false, "labelFlush": false}}
},
"layer": [
{"data": {"name": "ms"}, "mark": {"type": "line", "strokeWidth": 2.2, "interpolate": "linear"},
 "encoding": {"color": {"field": "s", "type": "nominal",
  "scale": {"domain": ["Windspeed AVG","error_number AVG","Current AVG","autostart_number AVG","main_state_number AVG","error_number AVG #2"], "range": ["#e0400a","#e07b10","#18e048","#2a10e0","#e010a8","#555555"]},
  "legend": {"title": null, "orient": "none", "legendX": -35, "legendY": 520, "direction": "horizontal", "columns": 6, "columnPadding": 51, "padding": 0,
   "symbolType": "square", "symbolSize": 100, "labelFont": "DejaVu Sans Mono", "labelFontSize": 11.7, "labelColor": "#000000", "labelOffset": 5, "labelLimit": 0,
   "labelExpr": "replace(datum.label, ' #2', '')",
   "encode": {"symbols": {"update": {"fill": {"scale": "color", "field": "value"}, "stroke": {"value": "#000000"}, "strokeWidth": {"value": 1}, "opacity": {"value": 1}}}}}}}},
{"data": {"name": "ws"}, "mark": {"type": "line", "strokeWidth": 2.2, "interpolate": "linear"},
 "encoding": {"color": {"field": "s", "type": "nominal"}}},
{"data": {"name": "cur"}, "mark": {"type": "line", "strokeWidth": 2.2, "interpolate": "linear"},
 "encoding": {"color": {"field": "s", "type": "nominal"}, "detail": {"field": "seg", "type": "nominal"}}},
{"data": {"name": "arrowUp"}, "mark": {"type": "point", "shape": "triangle-up", "filled": true, "size": 30, "color": "#800000", "opacity": 1}},
{"data": {"name": "arrowRight"}, "mark": {"type": "point", "shape": "triangle-right", "filled": true, "size": 30, "color": "#800000", "opacity": 1}}
]
}
